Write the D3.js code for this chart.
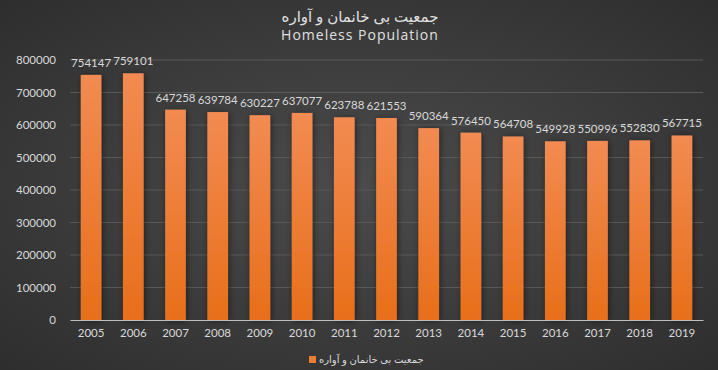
<!DOCTYPE html>
<html>
<head>
<meta charset="utf-8">
<script src="https://cdn.jsdelivr.net/npm/d3@7"></script>
<style>
  body { margin: 0; background: #333; }
  svg { display: block; font-family: Lato, "Open Sans", sans-serif; }
</style>
</head>
<body>
<script>
const years = ["2005","2006","2007","2008","2009","2010","2011","2012","2013","2014","2015","2016","2017","2018","2019"];
const population = [754147,759101,647258,639784,630227,637077,623788,621553,590364,576450,564708,549928,550996,552830,567715];
const yTicks = [0,100000,200000,300000,400000,500000,600000,700000,800000];
const titleFa = "جمعیت بی خانمان و آواره";
const titleEn = "Homeless Population";

const width = 718, height = 370;
const margin = { top: 60, right: 15, bottom: 50, left: 70 };

const svg = d3.select("body").append("svg").attr("width", width).attr("height", height);
const defs = svg.append("defs");

// background radial
const bg = defs.append("radialGradient").attr("id", "bg").attr("cx", "50%").attr("cy", "50%").attr("r", "75%");
bg.append("stop").attr("offset", "0%").attr("stop-color", "#4b4b4b");
bg.append("stop").attr("offset", "100%").attr("stop-color", "#2c2c2c");
svg.append("rect").attr("width", width).attr("height", height).attr("fill", "url(#bg)");

const barGrad = defs.append("linearGradient").attr("id", "bar").attr("x1", 0).attr("y1", 0).attr("x2", 0).attr("y2", 1);
barGrad.append("stop").attr("offset", "0%").attr("stop-color", "#f28b52");
barGrad.append("stop").attr("offset", "100%").attr("stop-color", "#e86f1a");

const shadow = defs.append("filter").attr("id", "sh").attr("x", "-50%").attr("y", "-10%").attr("width", "200%").attr("height", "120%");
shadow.append("feGaussianBlur").attr("in", "SourceAlpha").attr("stdDeviation", 3);
shadow.append("feOffset").attr("dx", 1).attr("dy", 1).attr("result", "b");
shadow.append("feComponentTransfer").append("feFuncA").attr("type", "linear").attr("slope", 0.5);
const mg = shadow.append("feMerge");
mg.append("feMergeNode");
mg.append("feMergeNode").attr("in", "SourceGraphic");

const x = d3.scaleBand().domain(years).range([margin.left, width - margin.right]).paddingInner(0.51).paddingOuter(0.255);
const y = d3.scaleLinear().domain([0, 800000]).range([height - margin.bottom, margin.top]);

// gridlines
svg.append("g").selectAll("line").data(yTicks.slice(1)).join("line")
  .attr("x1", margin.left).attr("x2", width - margin.right)
  .attr("y1", d => y(d)).attr("y2", d => y(d))
  .attr("stroke", "#595959").attr("stroke-width", 1);

// y axis labels
const yAxis = svg.append("g").attr("transform", `translate(${margin.left - 11},0)`)
  .call(d3.axisLeft(y).tickValues(yTicks).tickSize(0).tickFormat(d3.format("d")));
yAxis.select(".domain").remove();
yAxis.selectAll("text").attr("fill", "#d9d9d9").attr("font-size", 11.5).attr("font-family", "Lato, sans-serif");

// bars
svg.append("g").selectAll("rect").data(population).join("rect")
  .attr("x", (d, i) => x(years[i]))
  .attr("y", d => y(d))
  .attr("width", x.bandwidth())
  .attr("height", d => y(0) - y(d))
  .attr("fill", "url(#bar)")
  .attr("filter", "url(#sh)");

// value labels
svg.append("g").selectAll("text").data(population).join("text")
  .attr("x", (d, i) => x(years[i]) + x.bandwidth() / 2)
  .attr("y", d => y(d) - 8)
  .attr("text-anchor", "middle")
  .attr("fill", "#d9d9d9").attr("font-size", 11.5)
  .text(d => d);

// x axis
const xAxis = svg.append("g").attr("transform", `translate(0,${y(0)})`)
  .call(d3.axisBottom(x).tickSize(0).tickPadding(9));
xAxis.select(".domain").attr("stroke", "#bfbfbf").attr("stroke-width", 1.2);
xAxis.selectAll("text").attr("fill", "#d9d9d9").attr("font-size", 11.5).attr("font-family", "Lato, sans-serif");

// titles
svg.append("text").attr("x", 360).attr("y", 22).attr("text-anchor", "middle")
  .attr("fill", "#e0e0e0").attr("font-size", 15).attr("font-family", "Noto Sans, DejaVu Sans, sans-serif")
  .text(titleFa);
svg.append("text").attr("x", 360).attr("y", 40).attr("text-anchor", "middle")
  .attr("fill", "#e0e0e0").attr("font-size", 14).attr("letter-spacing", 1).attr("font-family", "Open Sans, sans-serif")
  .text(titleEn);

// legend
svg.append("rect").attr("x", 309).attr("y", 356).attr("width", 7).attr("height", 7).attr("fill", "#ed7d31");
svg.append("text").attr("x", 319).attr("y", 363).attr("text-anchor", "start")
  .attr("fill", "#d9d9d9").attr("font-size", 10).attr("font-family", "Noto Sans, DejaVu Sans, sans-serif")
  .text(titleFa);
</script>
</body>
</html>
